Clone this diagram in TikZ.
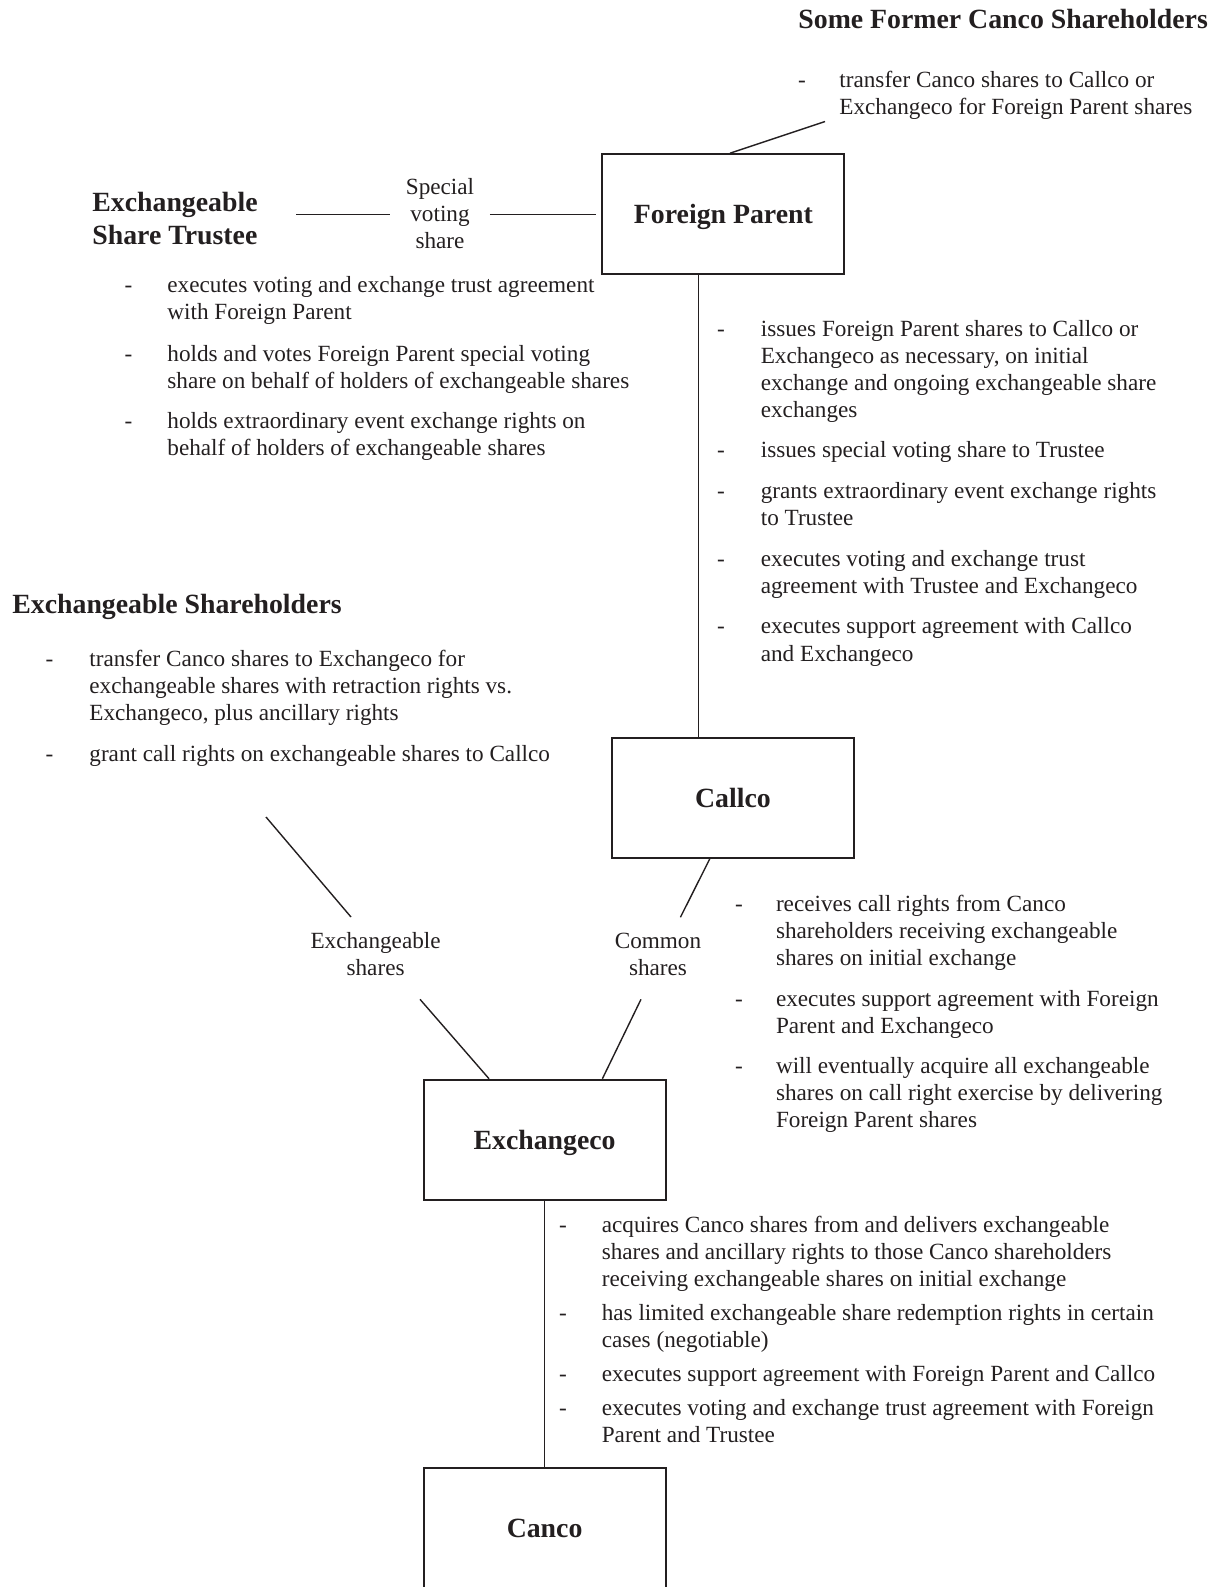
\documentclass[tikz,border=0pt]{standalone}
\usepackage{fontspec}
\setmainfont{Liberation Serif}
\usetikzlibrary{calc}
\definecolor{ink}{RGB}{35,31,32}
\begin{document}
\begin{tikzpicture}[x=0.5pt,y=-0.5pt,
  body/.style={font=\fontsize{11.6}{13.65}\selectfont, text=ink, inner sep=0pt, anchor=base west, align=left},
  dashc/.style={font=\fontsize{11.6}{13.65}\selectfont, text=ink, inner sep=0pt, anchor=base},
  lbl/.style={font=\fontsize{11.6}{13.65}\selectfont, text=ink, inner sep=0pt, anchor=base, align=center},
  ttl/.style={font=\fontsize{13.9}{16.2}\selectfont\bfseries, text=ink, inner sep=0pt, anchor=base west, align=left},
  box/.style={draw=ink, line width=1pt, minimum width=121pt, minimum height=60pt, inner sep=0pt, text depth=0pt, font=\fontsize{13.9}{16.2}\selectfont\bfseries, text=ink},
  conn/.style={draw=ink, line width=0.7pt}]
\useasboundingbox (0,0) rectangle (1219,1587);
\clip (0,0) rectangle (1219,1587);

% Titles (multi-line nodes are placed by the baseline of their last line)
\node[ttl] (sfcs) at (798,28.5) {Some Former Canco Shareholders};
\node[dashc] (sfd1) at (802,87) {-};
\node[body] (sf1) at (839,114.3) {transfer Canco shares to Callco or\\Exchangeco for Foreign Parent shares};

% Boxes
\node[box] (fp) at (723.4,214.2) {Foreign Parent};
\node[box] (callco) at (733,797.8) {Callco};
\node[box] (exco) at (544.6,1139.7) {Exchangeco};
\node[box, minimum height=61pt, anchor=north] (canco) at (544.6,1467) {};
\node[font=\fontsize{13.9}{16.2}\selectfont\bfseries, text=ink, inner sep=0pt] (cancot) at (544.6,1528) {Canco};

% Trustee
\node[ttl] (trustee) at (92,244) {Exchangeable\\Share Trustee};
\node[lbl, text width=49.5pt] (svs) at (440,194.3) {Special\\voting\\share};

\node[dashc] (td1) at (128.6,292.5) {-};
\node[body] (t1) at (167,319.8) {executes voting and exchange trust agreement\\with Foreign Parent};
\node[dashc] (td2) at (128.6,361.4) {-};
\node[body] (t2) at (167,388.7) {holds and votes Foreign Parent special voting\\share on behalf of holders of exchangeable shares};
\node[dashc] (td3) at (128.6,428.2) {-};
\node[body] (t3) at (167,455.5) {holds extraordinary event exchange rights on\\behalf of holders of exchangeable shares};

% Foreign Parent bullets
\node[dashc] (fd1) at (721,336) {-};
\node[body] (f1) at (760.4,417.9) {issues Foreign Parent shares to Callco or\\Exchangeco as necessary, on initial\\exchange and ongoing exchangeable share\\exchanges};
\node[dashc] (fd2) at (721,457.6) {-};
\node[body] (f2) at (760.4,457.6) {issues special voting share to Trustee};
\node[dashc] (fd3) at (721,498) {-};
\node[body] (f3) at (760.4,525.3) {grants extraordinary event exchange rights\\to Trustee};
\node[dashc] (fd4) at (721,566) {-};
\node[body] (f4) at (760.4,593.3) {executes voting and exchange trust\\agreement with Trustee and Exchangeco};
\node[dashc] (fd5) at (721,633.8) {-};
\node[body] (f5) at (760.4,661.1) {executes support agreement with Callco\\and Exchangeco};

% Exchangeable Shareholders
\node[ttl] (esh) at (12,613.5) {Exchangeable Shareholders};
\node[dashc] (ed1) at (49.6,666) {-};
\node[body] (e1) at (89,720.6) {transfer Canco shares to Exchangeco for\\exchangeable shares with retraction rights vs.\\Exchangeco, plus ancillary rights};
\node[dashc] (ed2) at (49.6,761) {-};
\node[body] (e2) at (89,761) {grant call rights on exchangeable shares to Callco};

% Share labels
\node[lbl] (exs) at (375.6,975.5) {Exchangeable\\shares};
\node[lbl] (cms) at (658,975.5) {Common\\shares};

% Callco bullets
\node[dashc] (cd1) at (739,911) {-};
\node[body] (c1) at (775.6,965.6) {receives call rights from Canco\\shareholders receiving exchangeable\\shares on initial exchange};
\node[dashc] (cd2) at (739,1006.4) {-};
\node[body] (c2) at (775.6,1033.7) {executes support agreement with Foreign\\Parent and Exchangeco};
\node[dashc] (cd3) at (739,1073) {-};
\node[body] (c3) at (775.6,1127.6) {will eventually acquire all exchangeable\\shares on call right exercise by delivering\\Foreign Parent shares};

% Exchangeco bullets
\node[dashc] (xd1) at (563,1232) {-};
\node[body] (x1) at (601.4,1286.6) {acquires Canco shares from and delivers exchangeable\\shares and ancillary rights to those Canco shareholders\\receiving exchangeable shares on initial exchange};
\node[dashc] (xd2) at (563,1320) {-};
\node[body] (x2) at (601.4,1347.3) {has limited exchangeable share redemption rights in certain\\cases (negotiable)};
\node[dashc] (xd3) at (563,1381) {-};
\node[body] (x3) at (601.4,1381) {executes support agreement with Foreign Parent and Callco};
\node[dashc] (xd4) at (563,1415) {-};
\node[body] (x4) at (601.4,1442.3) {executes voting and exchange trust agreement with Foreign\\Parent and Trustee};

% Free ends
\coordinate (sfend) at (825,121.5);
\coordinate (exa) at (266,817);
\coordinate (exb) at (351,917);
\coordinate (exc) at (420,999.3);
\coordinate (csa) at (680.4,917.3);
\coordinate (csb) at (641,999.3);

% Connectors
\draw[conn] ([xshift=3.3pt]fp.north) -- (sfend);
\draw[conn] ($(trustee.east |- fp.west)+(38,0)$) -- (fp.west -| svs.west);
\draw[conn, shorten >=2.7pt] (fp.west -| svs.east) -- (fp.west);
\draw[conn] ([xshift=-12.4pt]fp.south) -- ([xshift=-12.4pt]fp.south |- callco.north);
\draw[conn] ([xshift=-11.6pt]callco.south) -- (csa);
\draw[conn] (csb) -- ([xshift=28.9pt]exco.north);
\draw[conn] (exa) -- (exb);
\draw[conn] (exc) -- ([xshift=-27.8pt]exco.north);
\draw[conn] (exco.south) -- (canco.north);
\end{tikzpicture}
\end{document}
